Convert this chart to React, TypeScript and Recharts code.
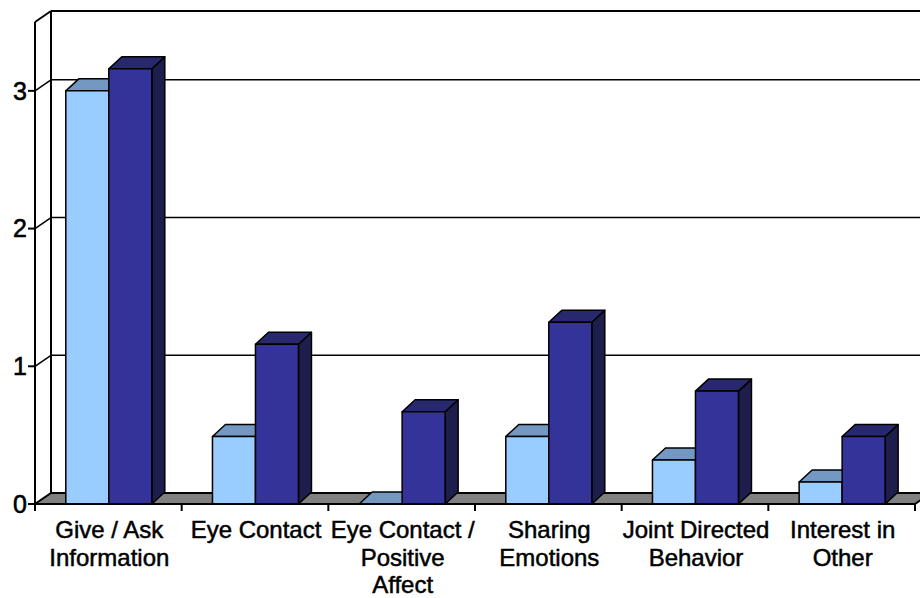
import { BarChart, Bar, XAxis, YAxis, ReferenceArea, ReferenceLine } from 'recharts';

const categories = [
  'Give / Ask Information',
  'Eye Contact',
  'Eye Contact / Positive Affect',
  'Sharing Emotions',
  'Joint Directed Behavior',
  'Interest in Other',
];
const labelLines = [
  ['Give / Ask', 'Information'],
  ['Eye Contact'],
  ['Eye Contact /', 'Positive', 'Affect'],
  ['Sharing', 'Emotions'],
  ['Joint Directed', 'Behavior'],
  ['Interest in', 'Other'],
];
const lightValues = [3.0, 0.49, 0, 0.49, 0.32, 0.16];
const darkValues = [3.16, 1.16, 0.67, 1.32, 0.82, 0.49];
const yTicks = [0, 1, 2, 3];
const gridValues = [1, 2, 3];

const data = categories.map((name, i) => ({ name, light: lightValues[i], dark: darkValues[i] }));

const FONT = 'Liberation Sans, Arial, sans-serif';
// depth offsets
const WX = 16, WY = -11; // walls
const BX = 13, BY = -12; // bars

function makeBox(front: string, top: string, side: string) {
  return (p: any) => {
    const { x, y, width: w, height: h } = p;
    if (x == null || y == null) return <g />;
    return (
      <g stroke="#000" strokeWidth={1.5} strokeLinejoin="round">
        <polygon points={`${x + w},${y} ${x + w + BX},${y + BY} ${x + w + BX},${y + h + BY} ${x + w},${y + h}`} fill={side} />
        <polygon points={`${x},${y} ${x + BX},${y + BY} ${x + w + BX},${y + BY} ${x + w},${y}`} fill={top} />
        {h > 0 && <rect x={x} y={y} width={w} height={h} fill={front} />}
      </g>
    );
  };
}

const lightBox = makeBox('#99CCFF', '#7399C3', '#5C7FA3');
const darkBox = makeBox('#333399', '#28286F', '#1E1E4C');

function backWall(p: any) {
  const { x, y, height: h, width: w } = p;
  return (
    <g stroke="#000" strokeWidth={2} fill="none">
      <line x1={x + WX} y1={y + WY} x2={x + WX} y2={y + h + WY} />
      <line x1={x + WX} y1={y + WY} x2={x + w + WX + 20} y2={y + WY} />
      <line x1={x} y1={y} x2={x + WX} y2={y + WY} />
    </g>
  );
}

function gridLine(p: any) {
  const { x1, y1, x2 } = p;
  return (
    <g stroke="#000" strokeWidth={1.5}>
      <line x1={x1 + WX} y1={y1 + WY} x2={x2 + WX + 20} y2={y1 + WY} />
      <line x1={x1} y1={y1} x2={x1 + WX} y2={y1 + WY} />
    </g>
  );
}

function floor(p: any) {
  const { x1, y1, x2 } = p;
  const n = categories.length;
  const step = (x2 - x1) / n;
  return (
    <g stroke="#000" strokeWidth={2}>
      <polygon points={`${x1},${y1} ${x2},${y1} ${x2 + WX},${y1 + WY} ${x1 + WX},${y1 + WY}`} fill="#808080" />
      {Array.from({ length: n + 1 }, (_, i) => (
        <line key={i} x1={x1 + i * step} y1={y1} x2={x1 + i * step} y2={y1 + 7} />
      ))}
    </g>
  );
}

function CategoryTick(p: any) {
  const { x, payload, index } = p;
  const lines = labelLines[index] ?? [payload.value];
  return (
    <text x={x + 1} y={538} textAnchor="middle" fontFamily={FONT} fontSize={24} fill="#000" stroke="#000" strokeWidth={0.5}>
      {lines.map((l: string, i: number) => (
        <tspan key={i} x={x + 1} dy={i === 0 ? 0 : 27.5}>{l}</tspan>
      ))}
    </text>
  );
}

export default function App() {
  return (
    <div style={{ position: 'absolute', left: 0, top: 0, width: 920, height: 598, overflow: 'hidden', background: '#fff' }}>
      <BarChart
        width={920}
        height={598}
        data={data}
        margin={{ top: 22, right: 5, left: 0, bottom: 0 }}
        barGap={0}
        barCategoryGap="21%"
      >
        <ReferenceArea y1={0} y2={3.5} shape={backWall} zIndex={-20} ifOverflow="visible" />
        {gridValues.map((v) => (
          <ReferenceLine key={v} y={v} shape={gridLine} zIndex={-20} />
        ))}
        <ReferenceLine y={0} shape={floor} zIndex={-10} />
        <XAxis
          dataKey="name"
          interval={0}
          height={94}
          axisLine={{ stroke: '#000', strokeWidth: 2 }}
          tickLine={false}
          tick={<CategoryTick />}
        />
        <YAxis
          domain={[0, 3.5]}
          ticks={yTicks}
          width={35}
          tickSize={7}
          tickMargin={1}
          axisLine={{ stroke: '#000', strokeWidth: 2 }}
          tickLine={{ stroke: '#000', strokeWidth: 2 }}
          tick={{ fill: '#000', stroke: '#000', strokeWidth: 0.6, fontSize: 25, fontFamily: FONT }}
        />
        <Bar dataKey="light" shape={lightBox} isAnimationActive={false} />
        <Bar dataKey="dark" shape={darkBox} isAnimationActive={false} />
      </BarChart>
    </div>
  );
}
